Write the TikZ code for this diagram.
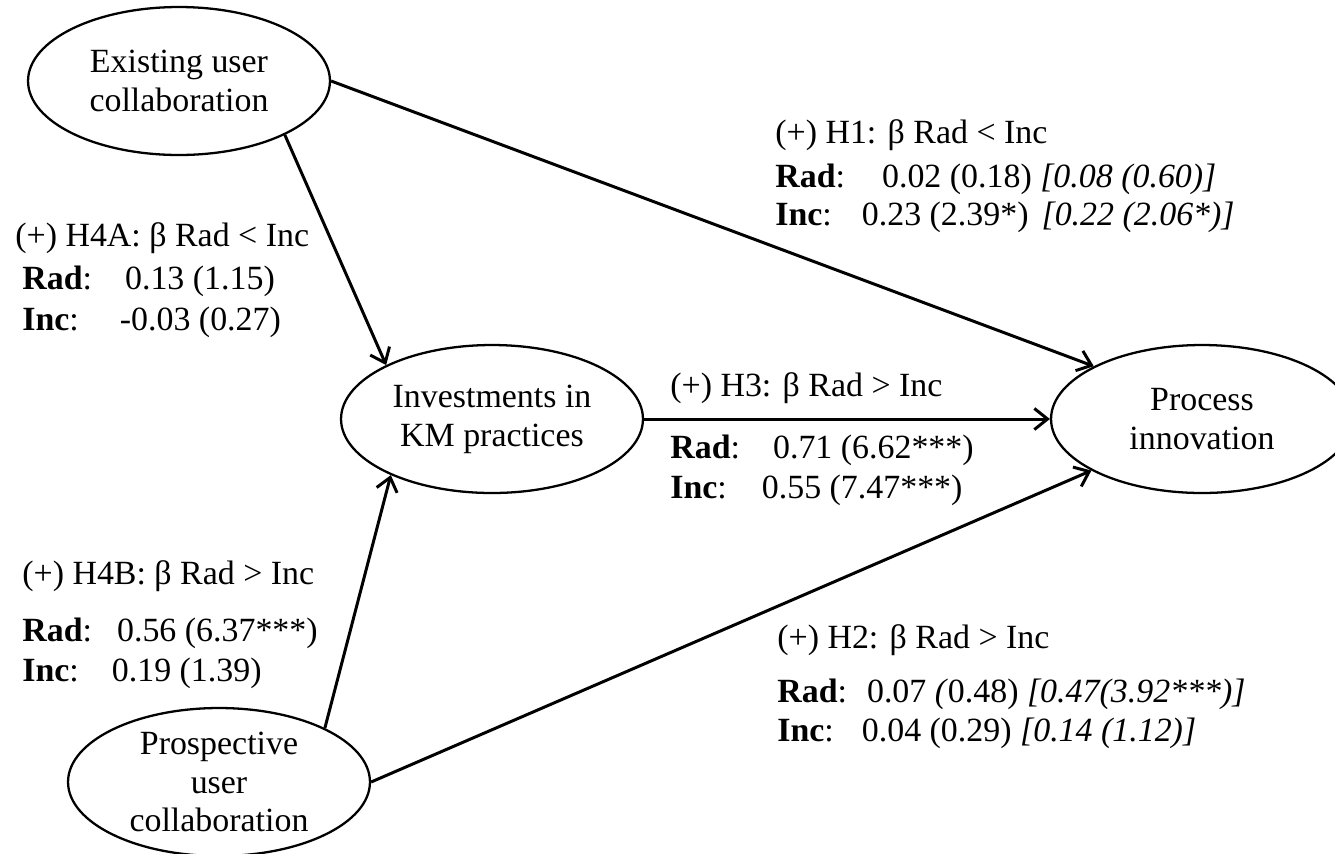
\documentclass[tikz,border=0pt]{standalone}
\usepackage{fontspec}
\setmainfont{Liberation Serif}
\usetikzlibrary{shapes.geometric,arrows.meta}
\newlength\pxu
\setlength\pxu{0.02cm}
\newcommand{\gap}[1]{\hspace*{#1\pxu}}
\begin{document}
\begin{tikzpicture}[x=0.02cm, y=-0.02cm, font=\fontsize{19.3}{22.1}\selectfont,
  >={Straight Barb[length=7.5pt,width=12pt]},
  construct/.style={ellipse, draw, line width=1.3pt, minimum width=6.04cm, minimum height=2.96cm, inner sep=0pt, align=center},
  hyp/.style={anchor=base west, inner sep=0pt},
  link/.style={->, line width=1.7pt}]
\useasboundingbox (0,0) rectangle (1335,853);
\node[construct] (exist) at (179,81) {Existing user\\collaboration};
\node[construct] (inv) at (492,419) {Investments in\\KM practices};
\node[construct] (proc) at (1202,419) {Process\\innovation};
\node[construct] (pros) at (219,782) {Prospective\\user\\collaboration};
\draw [link] (exist.east) -- (proc.154);
\draw [link] (exist.-27) -- (inv.153);
\draw [link] (pros.27) -- (inv.209);
\draw [link] (inv.east) -- (proc.west);
\draw [link] (pros.east) -- (proc.205);
% H1
\node[hyp] (h1) at (775,143) {(+) H1: β Rad < Inc};
\node[hyp] (h1rad) at (775,187) {\textbf{Rad}:\gap{37}0.02 (0.18) \textit{[0.08 (0.60)]}};
\node[hyp] (h1inc) at (775,225) {\textbf{Inc}:\gap{30}0.23 (2.39*)\gap{13}\textit{[0.22 (2.06*)]}};
% H4A
\node[hyp] (h4a) at (15,246) {(+) H4A: β Rad < Inc};
\node[hyp] (h4arad) at (22,289) {\textbf{Rad}:\gap{33}0.13 (1.15)};
\node[hyp] (h4ainc) at (22,330) {\textbf{Inc}:\gap{41}-0.03 (0.27)};
% H3
\node[hyp] (h3) at (670,396) {(+) H3: β Rad > Inc};
\node[hyp] (h3rad) at (670,458) {\textbf{Rad}:\gap{33}0.71 (6.62***)};
\node[hyp] (h3inc) at (670,498) {\textbf{Inc}:\gap{35}0.55 (7.47***)};
% H4B
\node[hyp] (h4b) at (22,584) {(+) H4B: β Rad > Inc};
\node[hyp] (h4brad) at (22,641) {\textbf{Rad}:\gap{25}0.56 (6.37***)};
\node[hyp] (h4binc) at (22,681) {\textbf{Inc}:\gap{33}0.19 (1.39)};
% H2
\node[hyp] (h2) at (777,648) {(+) H2: β Rad > Inc};
\node[hyp] (h2rad) at (777,702) {\textbf{Rad}:\gap{20}0.07 \textit{(}0.48) \textit{[0.47(3.92***)]}};
\node[hyp] (h2inc) at (777,741) {\textbf{Inc}:\gap{28}0.04 (0.29) \textit{[0.14 (1.12)]}};
\end{tikzpicture}
\end{document}
